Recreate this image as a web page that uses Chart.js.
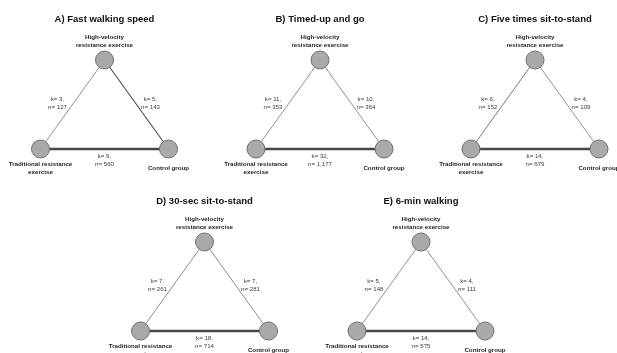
<!DOCTYPE html>
<html>
<head>
<meta charset="utf-8">
<script src="https://cdn.jsdelivr.net/npm/chart.js@4.4.1/dist/chart.umd.min.js"></script>
<style>
  html, body { margin: 0; padding: 0; background: #ffffff; }
  #wrap { width: 617px; height: 353px; overflow: hidden; }
  canvas { display: block; background: #ffffff; }
</style>
</head>
<body>
<div id="wrap"><canvas id="net" width="617" height="353"></canvas></div>
<script>
// Network plots: one triangle per outcome
const panelTitles = [
  'A) Fast walking speed',
  'B) Timed-up and go',
  'C) Five times sit-to-stand',
  'D) 30-sec sit-to-stand',
  'E) 6-min walking'
];
const nodeNames = [
  ['High-velocity', 'resistance exercise'],
  ['Traditional resistance', 'exercise'],
  ['Control group']
];
// k = number of comparisons, n = participants, per edge and outcome
const kHighTrad = [3, 11, 6, 7, 5];
const nHighTrad = [127, 353, 152, 261, 148];
const kHighCtrl = [5, 10, 4, 7, 4];
const nHighCtrl = [143, 364, 109, 281, 111];
const kTradCtrl = [9, 32, 14, 18, 14];
const nTradCtrl = [560, 1177, 679, 714, 575];

// Panel layout (canvas units): centre x and apex y of each triangle
const layout = [
  { cx: 104.5, top: 60 },
  { cx: 320, top: 60 },
  { cx: 535, top: 60 },
  { cx: 204.5, top: 242 },
  { cx: 421, top: 242 }
];
const halfBase = 64;
const triHeight = 89;
const FONT = '"Liberation Sans", Arial, Helvetica, sans-serif';

function nodesOf(i) {
  const L = layout[i];
  return {
    high: { x: L.cx, y: L.top },
    trad: { x: L.cx - halfBase, y: L.top + triHeight },
    ctrl: { x: L.cx + halfBase, y: L.top + triHeight }
  };
}
// edge thickness grows with k relative to the largest k of the panel
const edgeWidth = (k, kMax) => Math.max(0.6, 2.6 * Math.pow(k / kMax, 1.5));
const fmt = v => v.toLocaleString('en-US');

const datasets = [];
panelTitles.forEach((t, i) => {
  const N = nodesOf(i);
  const kMax = Math.max(kHighTrad[i], kHighCtrl[i], kTradCtrl[i]);
  const edges = [
    [N.high, N.trad, kHighTrad[i]],
    [N.high, N.ctrl, kHighCtrl[i]],
    [N.trad, N.ctrl, kTradCtrl[i]]
  ];
  edges.forEach(([a, b, k]) => {
    datasets.push({
      type: 'scatter',
      data: [a, b],
      showLine: true,
      borderColor: '#474747',
      borderWidth: edgeWidth(k, kMax),
      pointRadius: 0,
      pointHoverRadius: 0,
      clip: false,
      order: 2
    });
  });
  datasets.push({
    type: 'scatter',
    data: [N.high, N.trad, N.ctrl],
    showLine: false,
    pointRadius: 9,
    pointHoverRadius: 9,
    backgroundColor: '#a9a9a9',
    borderColor: '#707070',
    borderWidth: 1,
    clip: false,
    order: 1
  });
});

// Titles, node names and edge annotations
const labelPlugin = {
  id: 'netLabels',
  afterDatasetsDraw(chart) {
    const ctx = chart.ctx;
    const xs = chart.scales.x, ys = chart.scales.y;
    const px = v => xs.getPixelForValue(v);
    const py = v => ys.getPixelForValue(v);
    ctx.save();
    ctx.textAlign = 'center';
    ctx.textBaseline = 'middle';
    panelTitles.forEach((title, i) => {
      const N = nodesOf(i);
      const L = layout[i];
      // title
      ctx.fillStyle = '#111111';
      ctx.font = 'bold 9.5px ' + FONT;
      ctx.fillText(title, px(L.cx), py(L.top - 41));
      // node names
      ctx.fillStyle = '#1e1e1e';
      ctx.font = 'bold 6.2px ' + FONT;
      ctx.fillText(nodeNames[0][0], px(N.high.x), py(N.high.y - 23));
      ctx.fillText(nodeNames[0][1], px(N.high.x), py(N.high.y - 15));
      ctx.fillText(nodeNames[1][0], px(N.trad.x), py(N.trad.y + 15));
      ctx.fillText(nodeNames[1][1], px(N.trad.x), py(N.trad.y + 23));
      ctx.fillText(nodeNames[2][0], px(N.ctrl.x), py(N.ctrl.y + 19));
      // edge annotations
      ctx.fillStyle = '#3c3c3c';
      ctx.font = '6.1px ' + FONT;
      const midL = { x: (N.high.x + N.trad.x) / 2, y: (N.high.y + N.trad.y) / 2 };
      const midR = { x: (N.high.x + N.ctrl.x) / 2, y: (N.high.y + N.ctrl.y) / 2 };
      const midB = { x: (N.trad.x + N.ctrl.x) / 2, y: N.trad.y };
      ctx.fillText('k= ' + kHighTrad[i] + ',', px(midL.x - 15), py(midL.y - 5));
      ctx.fillText('n= ' + fmt(nHighTrad[i]), px(midL.x - 15), py(midL.y + 3));
      ctx.fillText('k= ' + kHighCtrl[i] + ',', px(midR.x + 14), py(midR.y - 5));
      ctx.fillText('n= ' + fmt(nHighCtrl[i]), px(midR.x + 14), py(midR.y + 3));
      ctx.fillText('k= ' + kTradCtrl[i] + ',', px(midB.x), py(midB.y + 7));
      ctx.fillText('n= ' + fmt(nTradCtrl[i]), px(midB.x), py(midB.y + 15));
    });
    ctx.restore();
  }
};

new Chart(document.getElementById('net'), {
  type: 'scatter',
  data: { datasets },
  options: {
    responsive: false,
    devicePixelRatio: 1,
    animation: false,
    events: [],
    layout: { padding: 0, autoPadding: false },
    plugins: { legend: { display: false }, tooltip: { enabled: false } },
    scales: {
      x: { type: 'linear', min: 0, max: 617, display: false },
      y: { type: 'linear', min: 0, max: 353, reverse: true, display: false }
    }
  },
  plugins: [labelPlugin]
});
</script>
</body>
</html>
